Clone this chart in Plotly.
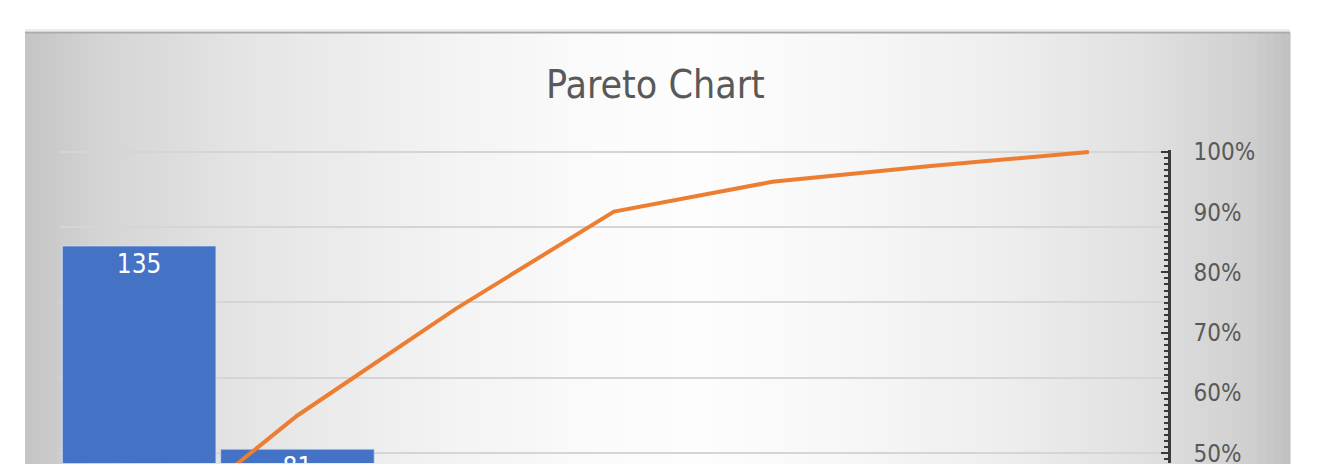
import numpy as np
import plotly.graph_objects as go

# ---------------- data ----------------
categories = ["A", "B", "C", "D", "E", "F", "G"]
counts = [135, 81, 68, 62, 19, 10, 9]
pct_tick_vals = [50, 60, 70, 80, 90, 100]
pct_tick_text = ["50%", "60%", "70%", "80%", "90%", "100%"]
title_text = "Pareto Chart"

cum_pct = np.cumsum(counts) / np.sum(counts) * 100.0

# ---------------- layout geometry ----------------
# the page body has an 8px margin; work in page pixels and convert
OFF = 8
W, H = 1318 - 2 * OFF, 475 - 2 * OFF
PLOT_L, PLOT_R, PLOT_T, PLOT_B = 60, 1168, 150, 467   # page pixels
ML = PLOT_L - OFF
MR = W - (PLOT_R - OFF)
MT = PLOT_T - OFF
MB = H - (PLOT_B - OFF)
PW = PLOT_R - PLOT_L
PH = PLOT_B - PLOT_T


def px2x(px):
    return (px - PLOT_L) / PW


def py2y(py):
    return (PLOT_B - py) / PH


FONT = "Liberation Sans Narrow, Arial Narrow, DejaVu Sans Condensed, sans-serif"

fig = go.Figure()

fig.add_trace(go.Bar(
    x=categories, y=counts, text=counts,
    textposition="inside", insidetextanchor="end", textangle=0,
    textfont=dict(family=FONT, size=26, color="white"),
    marker=dict(color="#4472C4", line=dict(color="rgba(210,225,250,0.7)", width=1)),
    cliponaxis=True, hoverinfo="skip",
))

fig.add_trace(go.Scatter(
    x=categories, y=cum_pct, mode="lines", yaxis="y2",
    line=dict(color="#ED7D31", width=4),
    hoverinfo="skip",
))

# gradient background of chart area (vertical strips)
shapes = []
keys_px = [25, 100, 250, 450, 600, 700, 850, 1000, 1150, 1250, 1290]
keys_g = [196, 212, 229, 243, 251, 253, 247, 238, 224, 207, 192]
step = 8
x = 25
while x < 1290:
    xe = min(x + step, 1290)
    g = int(round(np.interp((x + xe) / 2, keys_px, keys_g)))
    shapes.append(dict(type="rect", xref="paper", yref="paper",
                       x0=px2x(x), x1=px2x(xe) + 0.0005, y0=py2y(468), y1=py2y(31),
                       fillcolor=f"rgb({g},{g},{g})", line=dict(width=0),
                       layer="below"))
    x = xe
shapes.append(dict(type="line", xref="paper", yref="paper",
                   x0=px2x(25), x1=px2x(1290), y0=py2y(31), y1=py2y(31),
                   line=dict(color="#ababab", width=2), layer="below"))
shapes.append(dict(type="line", xref="paper", yref="paper",
                   x0=px2x(25), x1=px2x(1290), y0=py2y(28.5), y1=py2y(28.5),
                   line=dict(color="#ececec", width=2), layer="below"))

fig.update_layout(
    width=W, height=H,
    margin=dict(l=ML, r=MR, t=MT, b=MB, pad=0),
    paper_bgcolor="white",
    plot_bgcolor="rgba(0,0,0,0)",
    showlegend=False,
    bargap=0.03,
    shapes=shapes,
    annotations=[dict(
        text=title_text, xref="paper", yref="paper",
        x=px2x(655), y=py2y(84), xanchor="center", yanchor="middle",
        showarrow=False, font=dict(family=FONT, size=39, color="#595959"),
    )],
    xaxis=dict(range=[-0.5, 6.5], showticklabels=False, showgrid=False,
               zeroline=False, showline=False, ticks=""),
    yaxis=dict(range=[77.32, 160.52], tick0=0, dtick=20, showgrid=True,
               gridcolor="#d5d5d5", gridwidth=2, showticklabels=False,
               zeroline=False, showline=False, ticks=""),
    yaxis2=dict(overlaying="y", side="right", anchor="x",
                range=[48.36, 100.33],
                tickmode="array", tickvals=pct_tick_vals, ticktext=pct_tick_text,
                ticks="inside", ticklen=7, tickwidth=2, tickcolor="#3a3a3a",
                showline=True, linecolor="#3a3a3a", linewidth=2.5,
                minor=dict(dtick=1, ticks="inside", ticklen=4, tickwidth=1.5,
                           tickcolor="#3a3a3a", showgrid=False),
                showgrid=False, zeroline=False,
                ticklabeloverflow="allow",
                tickfont=dict(family=FONT, size=24, color="#595959"),
                ticklabelstandoff=18),
)

fig.write_html("out.html")
